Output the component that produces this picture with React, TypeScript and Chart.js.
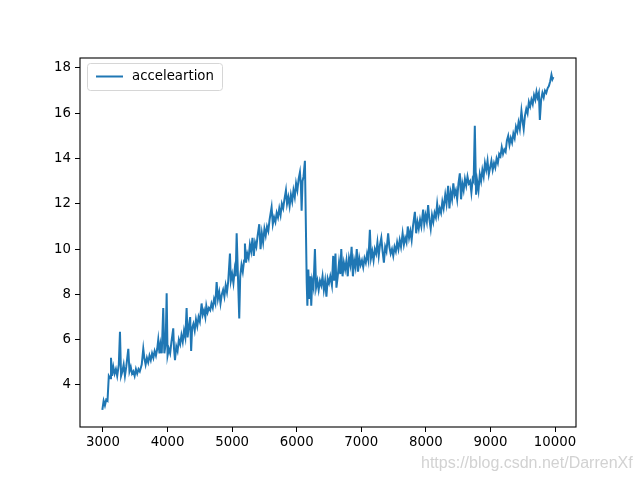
import React, { useEffect, useRef } from "react";
import { Chart, registerables } from "chart.js";

Chart.register(...registerables);

const seriesLabel = "acceleartion";
const watermark = "https://blog.csdn.net/DarrenXf";
const xTicks = [3000, 4000, 5000, 6000, 7000, 8000, 9000, 10000];
const yTicks = [4, 6, 8, 10, 12, 14, 16, 18];

const xs = [
  2990, 3010, 3030, 3050, 3070, 3090, 3110, 3124, 3140, 3160, 3180, 3200, 3220, 3245, 3263, 3280, 3300, 3320, 3340, 3360,
  3392, 3410, 3430, 3450, 3470, 3490, 3510, 3530, 3550, 3570, 3600, 3624, 3640, 3660, 3680, 3700, 3720, 3740, 3760, 3780,
  3800, 3820, 3840, 3856, 3875, 3890, 3910, 3933, 3950, 3970, 3986, 4000, 4020, 4040, 4060, 4088, 4100, 4115, 4135, 4155,
  4175, 4195, 4215, 4235, 4255, 4275, 4295, 4310, 4330, 4350, 4365, 4380, 4400, 4420, 4440, 4460, 4480, 4500, 4527, 4545,
  4565, 4585, 4600, 4620, 4640, 4660, 4680, 4700, 4720, 4740, 4760, 4780, 4800, 4820, 4840, 4860, 4880, 4900, 4920, 4940,
  4966, 4980, 5000, 5020, 5040, 5055, 5070, 5090, 5110, 5125, 5145, 5165, 5185, 5198, 5215, 5235, 5255, 5275, 5295, 5315,
  5335, 5355, 5375, 5395, 5420, 5440, 5460, 5480, 5500, 5520, 5540, 5560, 5580, 5611, 5630, 5650, 5670, 5690, 5710, 5730,
  5750, 5770, 5790, 5810, 5833, 5850, 5870, 5890, 5910, 5930, 5950, 5970, 5990, 6010, 6030, 6050, 6065, 6076, 6090, 6105,
  6127, 6155, 6165, 6180, 6195, 6210, 6225, 6240, 6260, 6282, 6300, 6320, 6340, 6360, 6380, 6400, 6420, 6440, 6460, 6480,
  6500, 6520, 6545, 6565, 6580, 6600, 6615, 6635, 6655, 6675, 6690, 6710, 6730, 6750, 6770, 6790, 6810, 6830, 6850, 6870,
  6890, 6910, 6930, 6950, 6970, 6990, 7010, 7030, 7050, 7070, 7090, 7110, 7133, 7150, 7170, 7190, 7210, 7230, 7250, 7270,
  7290, 7310, 7330, 7350, 7370, 7390, 7416, 7435, 7455, 7475, 7495, 7515, 7535, 7555, 7575, 7595, 7615, 7640, 7660, 7680,
  7700, 7720, 7740, 7760, 7780, 7800, 7830, 7850, 7870, 7890, 7910, 7930, 7958, 7975, 7995, 8015, 8035, 8055, 8075, 8095,
  8115, 8135, 8155, 8175, 8195, 8215, 8235, 8255, 8275, 8300, 8320, 8345, 8365, 8385, 8405, 8425, 8445, 8465, 8485, 8505,
  8526, 8545, 8565, 8585, 8605, 8625, 8645, 8665, 8685, 8705, 8725, 8740, 8758, 8778, 8795, 8815, 8835, 8855, 8875, 8895,
  8915, 8935, 8955, 8975, 8995, 9015, 9035, 9055, 9075, 9095, 9115, 9135, 9155, 9175, 9195, 9215, 9235, 9255, 9275, 9295,
  9315, 9335, 9355, 9375, 9395, 9415, 9435, 9455, 9480, 9500, 9515, 9535, 9555, 9575, 9595, 9615, 9635, 9655, 9675, 9695,
  9713, 9730, 9750, 9765, 9785, 9805, 9825, 9845, 9865, 9885, 9905, 9925, 9945, 9960, 9975,
];

const ys = [
  2.9, 3.3, 3.1, 3.35, 3.3, 4.4, 4.3, 5.2, 4.4, 4.8, 4.5, 4.7, 4.4, 4.9, 6.35, 4.4, 4.6, 4.9, 4.4, 4.8,
  5.6, 4.6, 4.8, 4.5, 4.6, 4.4, 4.7, 4.5, 4.7, 4.6, 4.9, 5.6, 5.2, 4.9, 5.2, 5.0, 5.3, 5.1, 5.4, 5.2,
  5.5, 5.3, 5.6, 6.0, 5.4, 5.8, 5.4, 7.4, 5.4, 5.8, 8.05, 5.3, 5.6, 5.4, 5.9, 6.5, 5.6, 5.1, 5.7, 5.5,
  6.0, 5.8, 6.2, 5.9, 6.4, 6.1, 7.4, 6.1, 6.6, 7.0, 5.5, 6.5, 6.7, 6.4, 6.9, 6.6, 7.0, 6.8, 7.6, 7.1,
  7.3, 7.0, 7.5, 7.2, 7.4, 7.3, 7.6, 7.4, 7.8, 7.6, 8.55, 7.8, 8.1, 7.6, 8.0, 8.2, 7.9, 8.4, 8.1, 8.6,
  9.8, 8.6, 8.9, 8.5, 9.1, 8.8, 10.7, 8.8, 6.94, 8.8, 9.3, 9.0, 9.5, 10.25, 9.4, 9.8, 9.6, 10.2, 9.9, 10.5,
  9.7, 10.3, 10.1, 10.6, 11.1, 10.0, 10.7, 10.3, 10.9, 10.6, 11.0, 10.8, 11.3, 11.85, 11.1, 11.4, 11.2, 11.6, 11.4, 11.8,
  11.5, 12.0, 11.8, 12.2, 12.6, 12.0, 12.3, 11.9, 12.4, 12.1, 12.6, 12.3, 12.9, 12.6, 13.1, 13.4, 12.8, 11.7, 13.0, 13.2,
  13.9, 8.5, 7.5, 9.1, 7.8, 8.8, 7.5, 8.6, 8.3, 10.0, 8.3, 8.6, 8.2, 8.6, 8.4, 8.8, 8.2, 8.6, 7.9, 8.7,
  8.5, 8.8, 8.4, 9.7, 8.6, 9.8, 8.3, 8.8, 9.4, 8.9, 10.0, 8.8, 9.4, 9.1, 9.5, 8.8, 9.6, 9.3, 10.1, 8.8,
  9.5, 9.2, 10.0, 9.0, 9.6, 9.3, 9.5, 9.2, 9.6, 9.4, 9.8, 9.5, 10.85, 9.6, 9.9, 9.5, 10.0, 9.8, 10.3, 9.7,
  10.2, 10.5, 9.9, 9.4, 10.1, 9.9, 10.7, 10.1, 9.8, 10.0, 9.7, 10.1, 9.9, 10.3, 10.0, 10.4, 10.1, 10.7, 10.2, 10.5,
  10.3, 11.0, 10.5, 10.8, 10.4, 11.0, 11.65, 10.7, 11.2, 10.9, 11.3, 11.0, 11.75, 11.1, 11.5, 11.2, 11.95, 11.3, 10.9, 11.5,
  11.2, 11.6, 11.4, 12.0, 11.5, 11.8, 11.6, 12.1, 11.8, 12.4, 12.0, 12.8, 11.8, 12.5, 12.2, 12.9, 12.4, 12.6, 12.2, 12.9,
  13.35, 12.2, 12.9, 12.6, 13.1, 12.8, 13.2, 12.9, 13.0, 12.5, 13.1, 13.0, 15.45, 12.4, 13.0, 12.6, 13.3, 13.0, 13.5, 13.2,
  13.8, 13.5, 13.9, 13.3, 13.6, 13.9, 13.5, 13.8, 13.6, 14.0, 13.8, 14.2, 14.1, 14.5, 14.2, 14.4, 14.3, 14.8, 15.0, 14.6,
  14.9, 14.7, 15.1, 14.9, 15.4, 15.2, 15.6, 15.3, 16.1, 15.6, 15.3, 15.9, 16.2, 16.0, 16.5, 16.3, 16.6, 16.4, 16.8, 16.6,
  16.95, 16.7, 16.9, 15.7, 16.6, 16.9, 16.7, 17.0, 16.9, 17.1, 17.2, 17.4, 17.7, 17.5, 17.6,
];

const FONT = "'DejaVu Sans', sans-serif";

const decorPlugin = {
  id: "decor",
  afterDraw(chart: any) {
    const { ctx, chartArea } = chart;
    const { left, right, top, bottom } = chartArea;
    ctx.save();
    // frame
    ctx.strokeStyle = "#000";
    ctx.lineWidth = 1.1;
    ctx.strokeRect(left, top, right - left, bottom - top);
    // legend box
    const bx = 87.5, by = 63.5, bw = 135, bh = 27, r = 3;
    ctx.beginPath();
    ctx.moveTo(bx + r, by);
    ctx.lineTo(bx + bw - r, by);
    ctx.quadraticCurveTo(bx + bw, by, bx + bw, by + r);
    ctx.lineTo(bx + bw, by + bh - r);
    ctx.quadraticCurveTo(bx + bw, by + bh, bx + bw - r, by + bh);
    ctx.lineTo(bx + r, by + bh);
    ctx.quadraticCurveTo(bx, by + bh, bx, by + bh - r);
    ctx.lineTo(bx, by + r);
    ctx.quadraticCurveTo(bx, by, bx + r, by);
    ctx.closePath();
    ctx.fillStyle = "rgba(255,255,255,0.8)";
    ctx.fill();
    ctx.strokeStyle = "#d6d6d6";
    ctx.lineWidth = 1;
    ctx.stroke();
    ctx.beginPath();
    ctx.moveTo(96, 76.5);
    ctx.lineTo(123, 76.5);
    ctx.strokeStyle = "#1f77b4";
    ctx.lineWidth = 2;
    ctx.stroke();
    ctx.fillStyle = "#000";
    ctx.font = `13.3px ${FONT}`;
    ctx.textBaseline = "middle";
    ctx.textAlign = "left";
    ctx.fillText(seriesLabel, 132, 77);
    // watermark
    ctx.fillStyle = "rgba(205,205,205,0.9)";
    ctx.font = "16px 'Liberation Sans', Arial, sans-serif";
    ctx.textBaseline = "alphabetic";
    ctx.fillText(watermark, 421, 468);
    ctx.restore();
  },
};

export default function App() {
  const ref = useRef<HTMLCanvasElement | null>(null);

  useEffect(() => {
    document.body.style.margin = "0";
    const canvas = ref.current;
    if (!canvas) return;
    const points = xs.map((x, i) => ({ x, y: ys[i] }));
    const chart = new Chart(canvas, {
      type: "line",
      data: {
        datasets: [
          {
            label: seriesLabel,
            data: points,
            borderColor: "#1f77b4",
            borderWidth: 2,
            pointRadius: 0,
            tension: 0,
            fill: false,
          },
        ],
      },
      options: {
        animation: false,
        responsive: false,
        devicePixelRatio: 1,
        parsing: false as any,
        layout: { padding: { left: 0, top: 58, right: 64, bottom: 0 } },
        plugins: { legend: { display: false }, tooltip: { enabled: false } },
        scales: {
          x: {
            type: "linear",
            min: 2644,
            max: 10325,
            afterFit: (s: any) => {
              s.height = 53;
            },
            afterBuildTicks: (s: any) => {
              s.ticks = xTicks.map((v) => ({ value: v }));
            },
            grid: {
              display: true,
              drawOnChartArea: false,
              drawTicks: true,
              tickLength: 5,
              tickColor: "#000",
              tickWidth: 1,
            },
            border: { display: false },
            ticks: {
              color: "#000",
              font: { family: FONT, size: 13.3 },
              padding: 3,
              maxRotation: 0,
              autoSkip: false,
              callback: (v: any) => String(v),
            },
          },
          y: {
            type: "linear",
            min: 2.145,
            max: 18.44,
            afterFit: (s: any) => {
              s.width = 80;
            },
            afterBuildTicks: (s: any) => {
              s.ticks = yTicks.map((v) => ({ value: v }));
            },
            grid: {
              display: true,
              drawOnChartArea: false,
              drawTicks: true,
              tickLength: 5,
              tickColor: "#000",
              tickWidth: 1,
            },
            border: { display: false },
            ticks: {
              color: "#000",
              font: { family: FONT, size: 13.3 },
              padding: 4,
              autoSkip: false,
              callback: (v: any) => String(v),
            },
          },
        },
      },
      plugins: [decorPlugin],
    });
    return () => chart.destroy();
  }, []);

  return (
    <div style={{ width: 640, height: 480, background: "#fff" }}>
      <canvas ref={ref} width={640} height={480} style={{ display: "block" }} />
    </div>
  );
}
